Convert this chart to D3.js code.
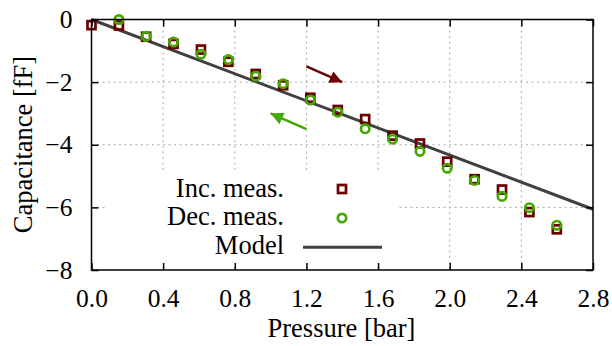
<!DOCTYPE html>
<html><head><meta charset="utf-8">
<script src="https://cdn.jsdelivr.net/npm/d3@7"></script>
<style>
body{margin:0;background:#fff}
svg text{font-family:"Liberation Serif","Tinos","Times New Roman","DejaVu Serif",serif;fill:#000}
</style></head>
<body><svg id="c" width="612" height="346"></svg>
<script>
const pressureInc = [0, 0.153, 0.305, 0.458, 0.611, 0.764, 0.917, 1.070, 1.222, 1.375, 1.528, 1.681, 1.834, 1.986, 2.139, 2.292, 2.445, 2.598];
const incMeas = [-0.18, -0.19, -0.55, -0.78, -0.96, -1.35, -1.74, -2.10, -2.50, -2.89, -3.18, -3.71, -3.96, -4.54, -5.10, -5.43, -6.15, -6.70];
const pressureDec = [0.153, 0.305, 0.458, 0.611, 0.764, 0.917, 1.070, 1.222, 1.375, 1.528, 1.681, 1.834, 1.986, 2.139, 2.292, 2.445, 2.598];
const decMeas = [0.0, -0.54, -0.72, -1.11, -1.28, -1.81, -2.05, -2.57, -2.96, -3.49, -3.82, -4.21, -4.75, -5.14, -5.65, -6.01, -6.57];
const modelX = [0, 2.8];
const modelY = [0, -6.06];
const xTicks = [0, 0.4, 0.8, 1.2, 1.6, 2.0, 2.4, 2.8];
const yTicks = [0, -2, -4, -6, -8];
const arrowInc = [[1.2, -1.5], [1.4, -2.0]];
const arrowDec = [[1.2, -3.5], [1.0, -3.0]];
const legendLabels = ["Inc. meas.", "Dec. meas.", "Model"];

(function () {
const L = 91.5, R = 593, T = 19.5, B = 270;
const svg = d3.select("#c");
const x = d3.scaleLinear().domain([0, 2.8]).range([L, R]);
const y = d3.scaleLinear().domain([-8, 0]).range([B, T]);
const cInc = "#6b0000", cDec = "#44a800", cModel = "#404040";
const FONT = "'Liberation Serif','Tinos','Times New Roman','DejaVu Serif',serif";

const grid = svg.append("g").attr("stroke", "#aaaaaa").attr("stroke-width", 1).attr("stroke-dasharray", "2,3.5");
xTicks.slice(1, -1).forEach(t => grid.append("line").attr("x1", x(t)).attr("x2", x(t)).attr("y1", T).attr("y2", B));
yTicks.slice(1, -1).forEach(t => grid.append("line").attr("x1", L).attr("x2", R).attr("y1", y(t)).attr("y2", y(t)));

svg.append("rect").attr("x", 107).attr("y", 173).attr("width", 292).attr("height", 90).attr("fill", "#fff");

svg.append("line").attr("x1", x(modelX[0])).attr("y1", y(modelY[0])).attr("x2", x(modelX[1])).attr("y2", y(modelY[1]))
  .attr("stroke", cModel).attr("stroke-width", 3);

const defs = svg.append("defs");
function marker(id, col) {
  defs.append("marker").attr("id", id).attr("viewBox", "0 0 10 10").attr("refX", 10).attr("refY", 5)
    .attr("markerWidth", 6.5).attr("markerHeight", 5).attr("markerUnits", "strokeWidth").attr("orient", "auto")
    .append("path").attr("d", "M0,0L10,5L0,10z").attr("fill", col);
}
marker("mi", cInc); marker("md", cDec);
[[arrowInc, cInc, "mi"], [arrowDec, cDec, "md"]].forEach(([a, col, id]) => {
  svg.append("line").attr("x1", x(a[0][0])).attr("y1", y(a[0][1])).attr("x2", x(a[1][0])).attr("y2", y(a[1][1]))
    .attr("stroke", col).attr("stroke-width", 2.5).attr("marker-end", `url(#${id})`);
});

const sq = 8, cr = 4.2, sw = 2.7;
svg.append("g").selectAll("rect").data(pressureInc.map((p, i) => [p, incMeas[i]])).join("rect")
  .attr("x", d => x(d[0]) - sq / 2).attr("y", d => y(d[1]) - sq / 2).attr("width", sq).attr("height", sq)
  .attr("fill", "none").attr("stroke", cInc).attr("stroke-width", sw);
svg.append("g").selectAll("circle").data(pressureDec.map((p, i) => [p, decMeas[i]])).join("circle")
  .attr("cx", d => x(d[0])).attr("cy", d => y(d[1])).attr("r", cr)
  .attr("fill", "none").attr("stroke", cDec).attr("stroke-width", sw);

const fsTick = 25.5, fsLab = 26.5;
const ax = svg.append("g");
ax.append("g").attr("transform", `translate(0,${B})`)
  .call(d3.axisBottom(x).tickValues(xTicks).tickSize(-7).tickPadding(18.5).tickFormat(d3.format(".1f")));
ax.append("g").attr("transform", `translate(0,${T})`)
  .call(d3.axisTop(x).tickValues(xTicks).tickSize(-7).tickFormat(""));
ax.append("g").attr("transform", `translate(${L},0)`)
  .call(d3.axisLeft(y).tickValues(yTicks).tickSize(-7).tickPadding(19).tickFormat(d3.format("d")));
ax.append("g").attr("transform", `translate(${R},0)`)
  .call(d3.axisRight(y).tickValues(yTicks).tickSize(-7).tickFormat(""));
ax.selectAll(".domain").remove();
ax.selectAll("g").attr("font-family", FONT);
ax.selectAll("line").attr("stroke", "#000").attr("stroke-width", 1.5);
ax.selectAll("text").attr("font-family", FONT).attr("font-size", fsTick).attr("fill", "#000");
svg.append("rect").attr("x", L).attr("y", T).attr("width", R - L).attr("height", B - T)
  .attr("fill", "none").attr("stroke", "#000").attr("stroke-width", 1.5);

svg.append("text").attr("x", 341.5).attr("y", 336.5).attr("text-anchor", "middle").attr("font-family", FONT).attr("font-size", fsLab).text("Pressure [bar]");
svg.append("text").attr("transform", `translate(32,144.5) rotate(-90)`).attr("text-anchor", "middle").attr("font-family", FONT).attr("font-size", fsLab).text("Capacitance [fF]");

const ly = [196.5, 225, 253.5];
legendLabels.forEach((t, i) => {
  svg.append("text").attr("x", 284).attr("y", ly[i]).attr("text-anchor", "end").attr("font-family", FONT).attr("font-size", fsLab).text(t);
});
svg.append("rect").attr("x", 342 - sq / 2).attr("y", 189 - sq / 2).attr("width", sq).attr("height", sq).attr("fill", "none").attr("stroke", cInc).attr("stroke-width", sw);
svg.append("circle").attr("cx", 342).attr("cy", 218).attr("r", cr).attr("fill", "none").attr("stroke", cDec).attr("stroke-width", sw);
svg.append("line").attr("x1", 303).attr("x2", 382).attr("y1", 247.3).attr("y2", 247.3).attr("stroke", cModel).attr("stroke-width", 3);
})();
</script></body></html>
